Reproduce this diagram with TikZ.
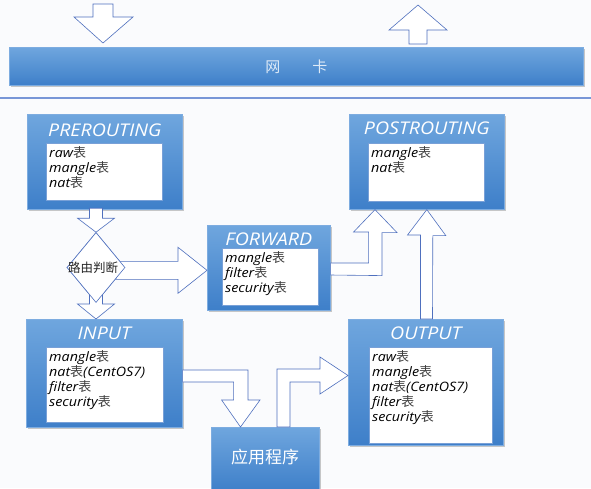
\documentclass[tikz,border=0pt]{standalone}
\usepackage{fontspec}
\setmainfont{Open Sans}
\newfontfamily\cjk{Noto Sans CJK SC}
\newfontfamily\titlefont[FakeStretch=1.12]{Open Sans}
\newfontfamily\tabfont[FakeStretch=1.1]{Open Sans}
\usetikzlibrary{calc,shapes.geometric,shadows}
\definecolor{pagebg}{RGB}{250,251,253}
\definecolor{boxtop}{RGB}{111,166,222}
\definecolor{boxbot}{RGB}{62,127,201}
\definecolor{boxedge}{RGB}{125,172,224}
\definecolor{tabedge}{RGB}{120,160,215}
\definecolor{arrowblue}{RGB}{79,112,190}
\definecolor{lineblue}{RGB}{120,150,215}
\definecolor{tabgray}{RGB}{60,60,60}
\definecolor{nictext}{RGB}{222,234,247}
\newcommand{\biao}{{\cjk\color{tabgray}表}}

\begin{document}
\begin{tikzpicture}[x=1pt,y=-1pt,
  every node/.style={inner sep=0pt},
  chainbox/.style={rectangle, anchor=north west, top color=boxtop, bottom color=boxbot,
    draw=boxedge, line width=0.6pt,
    drop shadow={shadow xshift=1.5pt, shadow yshift=-1.5pt, opacity=0.3, fill=black!70}},
  tabbox/.style={rectangle, anchor=north west, fill=white, draw=tabedge, line width=0.5pt},
  tabtext/.style={anchor=north west, inner sep=3pt, align=left,
    font=\tabfont\itshape\fontsize{13}{15}\selectfont, text=black},
  chaintitle/.style={font=\titlefont\itshape\fontsize{17.5}{17.5}\selectfont, text=white},
  blockarrow/.style={draw=arrowblue, fill=white, line width=0.6pt, line join=miter},
  decision/.style={diamond, aspect=0.83, draw=arrowblue, fill=white, line width=0.6pt,
    minimum width=58pt, minimum height=70pt}]
\fill [pagebg] (0,0) rectangle (591,488);
\useasboundingbox (0,0) rectangle (591,488);
% network card
\node [chainbox, minimum width=574pt, minimum height=38pt, drop shadow={opacity=0}] (nic) at (9,47) {};
\node [font=\cjk\fontsize{15}{15}\selectfont, text=nictext] at (nic.center) {网\hspace{32pt}卡};
\draw [lineblue, line width=1.2pt] (0,98) -- (591,98);
% chains
\node [chainbox, minimum width=155pt, minimum height=95pt] (pre) at (27,114) {};
\node [chainbox, minimum width=155pt, minimum height=95pt] (post) at (349,114) {};
\node [chainbox, minimum width=123pt, minimum height=85pt] (fwd) at (207,225) {};
\node [chainbox, minimum width=156pt, minimum height=108pt] (in) at (26,319) {};
\node [chainbox, minimum width=155pt, minimum height=126pt] (out) at (348,319) {};
\node [chainbox, minimum width=108pt, minimum height=64pt] (app) at (211,427) {};
\node [chaintitle] at (pre.north |- 0,130) {PREROUTING};
\node [chaintitle] at (post.north |- 0,128) {POSTROUTING};
\node [chaintitle] at (fwd.north |- 0,239) {FORWARD};
\node [chaintitle] at (in.north |- 0,333) {INPUT};
\node [chaintitle] at (out.north |- 0,333) {OUTPUT};
\node [font=\cjk\fontsize{17}{17}\selectfont, text=white] at (265,457) {应用程序};
% tables
\node [tabbox, minimum width=116pt, minimum height=57pt] (preT) at (46,143) {};
\node [tabbox, minimum width=116pt, minimum height=58pt] (postT) at (368,143) {};
\node [tabbox, minimum width=96pt, minimum height=57pt] (fwdT) at (222,248) {};
\node [tabbox, minimum width=117pt, minimum height=75pt] (inT) at (46,347) {};
\node [tabbox, minimum width=123pt, minimum height=96pt] (outT) at (369,347) {};
\node [tabtext] (preL) at (preT.north west) {raw\biao\\mangle\biao\\nat\biao};
\node [tabtext] (postL) at (postT.north west) {mangle\biao\\nat\biao};
\node [tabtext] (fwdL) at (fwdT.north west) {mangle\biao\\filter\biao\\security\biao};
\node [tabtext] (inL) at (inT.north west) {mangle\biao\\nat\biao(CentOS7)\\filter\biao\\security\biao};
\node [tabtext] (outL) at (outT.north west) {raw\biao\\mangle\biao\\nat\biao(CentOS7)\\filter\biao\\security\biao};
% arrows
\draw [blockarrow] ($(nic.north west)+(94,-4)$) -- ++(-29,-26) -- ++(19,0) -- ++(0,-13)
  -- ++(20,0) -- ++(0,13) -- ++(20,0) -- cycle;
\draw [blockarrow] ($(nic.north west)+(409,-42)$) -- ++(29,25) -- ++(-20,0) -- ++(0,14)
  -- ++(-18,0) -- ++(0,-14) -- ++(-20,0) -- cycle;
\node [decision] (route) at (96,267.5) {};
\draw [blockarrow] (route.north) -- ++(18.5,-14) -- ++(-12,0) -- ++(0,-10)
  -- ++(-13,0) -- ++(0,10) -- ++(-12,0) -- cycle;
\draw [blockarrow] (route.south |- in.north) -- ++(18.5,-15) -- ++(-12,0) -- ++(0,-12)
  -- ++(-13,0) -- ++(0,12) -- ++(-12,0) -- cycle;
\draw [blockarrow] ($(fwd.west)+(0,2.5)$) -- ++(-29,-23) -- ++(0,14) -- ++(-62,0)
  -- ++(0,18) -- ++(62,0) -- ++(0,14) -- cycle;
\node [decision] at (route.center) {};
\node [font=\cjk\fontsize{12.5}{12.5}\selectfont, text=black!85] at ($(route.center)+(-3,0.5)$) {路由判断};
\draw [blockarrow] ($(post.south west)+(26,0)$) -- ++(22,23) -- ++(-15,0) -- ++(0,43)
  -- (fwd.east |- 0,275) -- ++(0,-12) -- ++(38,0) -- ++(0,-31) -- ++(-15,0) -- cycle;
\draw [blockarrow] (post.south) -- ++(19,26) -- ++(-13,0) -- (out.north -| 432.5,0)
  -- ++(-12,0) -- ++(0,-84) -- ++(-13,0) -- cycle;
\draw [blockarrow] ($(app.north west)+(29.5,0)$) -- ++(19.5,-27) -- ++(-12,0) -- ++(0,-30)
  -- (in.east |- 0,370) -- ++(0,12) -- ++(51,0) -- ++(0,18) -- ++(-12,0) -- cycle;
\draw [blockarrow] ($(out.north west)+(0,56.5)$) -- ++(-28,18.5) -- ++(0,-12) -- ++(-30,0)
  -- (app.north -| 290,0) -- ++(-13,0) -- ++(0,-58) -- ++(43,0) -- ++(0,-12) -- cycle;
\end{tikzpicture}
\end{document}
